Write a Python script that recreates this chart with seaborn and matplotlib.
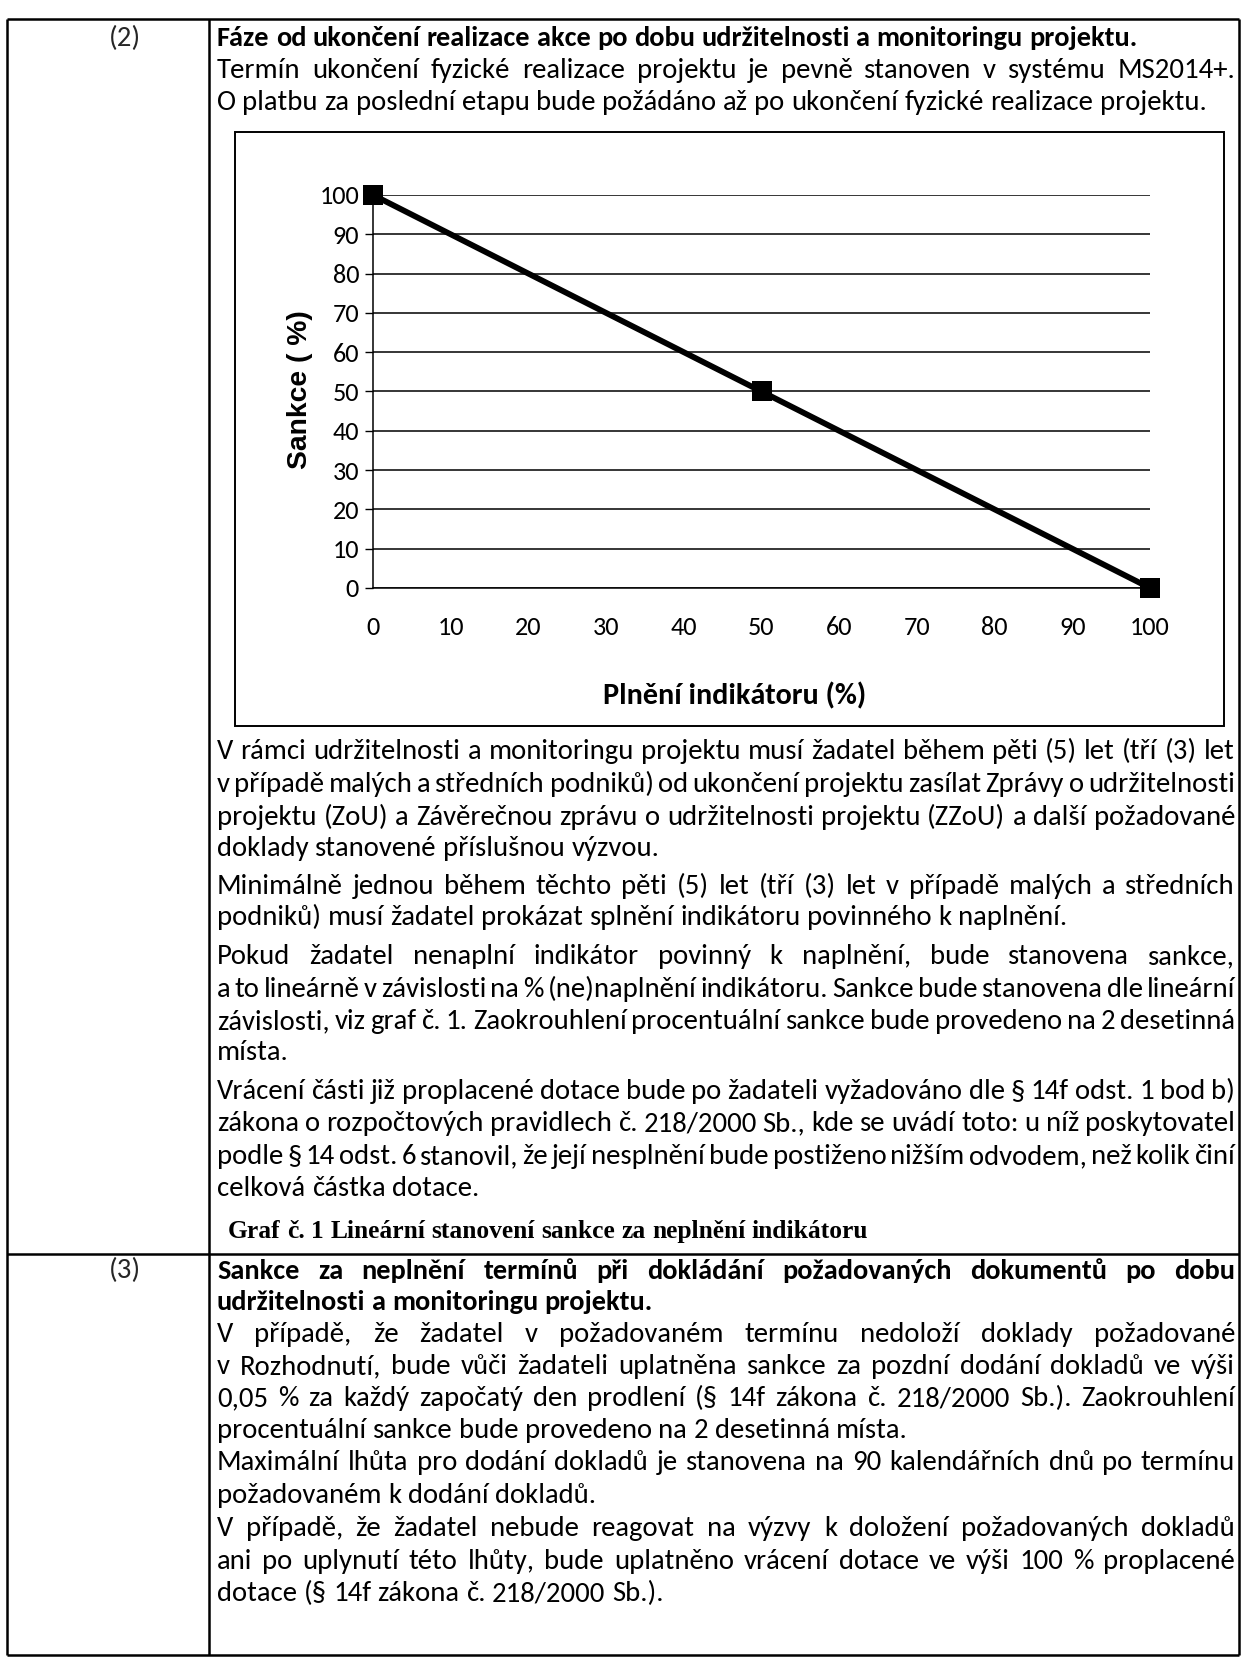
import matplotlib
matplotlib.use("Agg")
import matplotlib.pyplot as plt
from matplotlib import font_manager as fm
from matplotlib.patches import Rectangle
import seaborn as sns
import pandas as pd

# ---------------- chart data ----------------
plneni_indikatoru = [0, 50, 100]
sankce_pct = [100, 50, 0]
x_tick_values = [0, 10, 20, 30, 40, 50, 60, 70, 80, 90, 100]
y_tick_values = [0, 10, 20, 30, 40, 50, 60, 70, 80, 90, 100]
x_label = "Plnění indikátoru (%)"
y_label = "Sankce ( %)"
caption = "Graf č. 1 Lineární stanovení sankce za neplnění indikátoru"

# ---------------- page text ----------------
row_labels = ["(2)", "(3)"]
row2_heading = "Fáze od ukončení realizace akce po dobu udržitelnosti a monitoringu projektu."
row2_intro = [
    ("Termín ukončení fyzické realizace projektu je pevně stanoven v systému MS2014+.", True),
    ("O platbu za poslední etapu bude požádáno až po ukončení fyzické realizace projektu.", False),
]
row2_body = [
    ("V rámci udržitelnosti a monitoringu projektu musí žadatel během pěti (5) let (tří (3) let", True),
    ("v případě malých a středních podniků) od ukončení projektu zasílat Zprávy o udržitelnosti", True),
    ("projektu (ZoU) a Závěrečnou zprávu o udržitelnosti projektu (ZZoU) a další požadované", True),
    ("doklady stanovené příslušnou výzvou.", False),
    ("Minimálně jednou během těchto pěti (5) let (tří (3) let v případě malých a středních", True),
    ("podniků) musí žadatel prokázat splnění indikátoru povinného k naplnění.", False),
    ("Pokud žadatel nenaplní indikátor povinný k naplnění, bude stanovena sankce,", True),
    ("a to lineárně v závislosti na % (ne)naplnění indikátoru. Sankce bude stanovena dle lineární", True),
    ("závislosti, viz graf č. 1. Zaokrouhlení procentuální sankce bude provedeno na 2 desetinná", True),
    ("místa.", False),
    ("Vrácení části již proplacené dotace bude po žadateli vyžadováno dle § 14f odst. 1 bod b)", True),
    ("zákona o rozpočtových pravidlech č. 218/2000 Sb., kde se uvádí toto: u níž poskytovatel", True),
    ("podle § 14 odst. 6 stanovil, že její nesplnění bude postiženo nižším odvodem, než kolik činí", True),
    ("celková částka dotace.", False),
]
row3_heading = [
    ("Sankce za neplnění termínů při dokládání požadovaných dokumentů po dobu", True),
    ("udržitelnosti a monitoringu projektu.", False),
]
row3_body = [
    ("V případě, že žadatel v požadovaném termínu nedoloží doklady požadované", True),
    ("v Rozhodnutí, bude vůči žadateli uplatněna sankce za pozdní dodání dokladů ve výši", True),
    ("0,05 % za každý započatý den prodlení (§ 14f zákona č. 218/2000 Sb.). Zaokrouhlení", True),
    ("procentuální sankce bude provedeno na 2 desetinná místa.", False),
    ("Maximální lhůta pro dodání dokladů je stanovena na 90 kalendářních dnů po termínu", True),
    ("požadovaném k dodání dokladů.", False),
    ("V případě, že žadatel nebude reagovat na výzvy k doložení požadovaných dokladů", True),
    ("ani po uplynutí této lhůty, bude uplatněno vrácení dotace ve výši 100 % proplacené", True),
    ("dotace (§ 14f zákona č. 218/2000 Sb.).", False),
]

# ---------------- setup ----------------
W, H = 1241, 1662
sns.set_theme(style="white")
names = {f.name for f in fm.fontManager.ttflist}


def pick(cands, default):
    for c in cands:
        if c in names:
            return c
    return default


BODY = pick(["Carlito", "Calibri", "Lato", "Open Sans", "Noto Sans"], "DejaVu Sans")
ARIAL = pick(["Liberation Sans", "Arial"], "DejaVu Sans")
SERIF = pick(["Liberation Serif", "Times New Roman"], "DejaVu Serif")
plt.rcParams["font.family"] = [BODY, "DejaVu Sans"]
REGW = "medium"

fig = plt.figure(figsize=(W / 100, H / 100), dpi=100)
fig.patch.set_facecolor("white")
page = fig.add_axes([0, 0, 1, 1], zorder=0)
page.set_xlim(0, W)
page.set_ylim(H, 0)
page.axis("off")
renderer = fig.canvas.get_renderer()


def fam(f):
    return [f, "DejaVu Sans"]


def tw(s, size, weight=REGW, family=None):
    t = page.text(0, 0, s, fontsize=size, fontweight=weight, family=fam(family or BODY))
    w = t.get_window_extent(renderer=renderer).width
    t.remove()
    return w


def place_line(text, x0, yc, x_end, justify, size, weight=REGW, family=None):
    family = family or BODY
    words = text.split(" ")
    ws = [tw(w, size, weight, family) for w in words]
    if justify and len(words) > 1:
        gap = (x_end - x0 - sum(ws)) / (len(words) - 1)
    else:
        gap = tw("n n", size, weight, family) - tw("nn", size, weight, family)
    base = yc + 0.26 * size * 100 / 72
    x = x0
    for w, wd in zip(words, ws):
        page.text(x, base, w, fontsize=size, fontweight=weight, family=fam(family),
                  va="baseline", ha="left", color="black")
        x += wd + gap


# font sizes fitted to the reference widths
S_REG = 0.985 * 20 * 1007 / tw(row2_intro[1][0], 20)
S_BOLD = 20 * 924 / tw(row2_heading, 20, "bold")
S_CAP = 20 * 641 / tw(caption, 20, "bold", SERIF)

X0 = 217
XR = 1235

# ---------------- table borders ----------------
LW = 1.8
TOP, BOT, LEFT, COL, RIGHT, ROWDIV = 19, 1655, 7, 209, 1239, 1254
for (xa, xb, ya, yb) in [(LEFT, RIGHT, TOP, TOP), (LEFT, RIGHT, BOT, BOT),
                         (LEFT, LEFT, TOP, BOT), (COL, COL, TOP, BOT),
                         (RIGHT, RIGHT, TOP, BOT), (LEFT, RIGHT, ROWDIV, ROWDIV)]:
    page.plot([xa, xb], [ya, yb], color="black", lw=LW, solid_capstyle="butt")

page.text(125, 39 + 0.26 * S_REG * 100 / 72, row_labels[0], fontsize=S_REG, fontweight=REGW,
          ha="center", va="baseline")
page.text(125, 1271 + 0.26 * S_REG * 100 / 72, row_labels[1], fontsize=S_REG, fontweight=REGW,
          ha="center", va="baseline")

# ---------------- row (2) text ----------------
place_line(row2_heading, X0, 39, XR, False, S_BOLD, "bold")
for (txt, j), y in zip(row2_intro, [71, 103]):
    place_line(txt, X0, y, XR, j, S_REG)
body_y = [752, 785, 818, 849, 887, 918, 957, 990, 1022, 1053, 1092, 1124, 1157, 1189]
for (txt, j), y in zip(row2_body, body_y):
    place_line(txt, X0, y, XR, j, S_REG)
place_line(caption, 228, 1231, 869, False, S_CAP, "bold", SERIF)

# ---------------- row (3) text ----------------
place_line(row3_heading[0][0], X0, 1272, XR, True, S_BOLD, "bold")
place_line(row3_heading[1][0], X0, 1303, XR, False, S_BOLD, "bold")
r3_y = [1335, 1367, 1399, 1431, 1463, 1496, 1529, 1562, 1594]
for (txt, j), y in zip(row3_body, r3_y):
    place_line(txt, X0, y, XR, j, S_REG)

# ---------------- chart ----------------
page.add_patch(Rectangle((235, 132), 1224 - 235, 726 - 132, fill=False, ec="black", lw=1.4))

AX_L, AX_R, AX_T, AX_B = 373, 1150, 195, 588
ax = fig.add_axes([AX_L / W, 1 - AX_B / H, (AX_R - AX_L) / W, (AX_B - AX_T) / H], zorder=2)
ax.set_facecolor("none")

df = pd.DataFrame({"plneni": plneni_indikatoru, "sankce": sankce_pct})
sns.lineplot(data=df, x="plneni", y="sankce", ax=ax, color="black", linewidth=4.2,
             marker="s", markersize=15, markeredgewidth=0, markerfacecolor="black",
             clip_on=False, zorder=5)

ax.set_xlim(0, 100)
ax.set_ylim(0, 100)
ax.set_xticks(x_tick_values)
ax.set_yticks(y_tick_values)
ax.grid(False)
ax.yaxis.grid(True, color="black", linewidth=1.1)
ax.set_axisbelow(True)
for s in ["top", "right"]:
    ax.spines[s].set_visible(False)
for s in ["left", "bottom"]:
    ax.spines[s].set_visible(True)
    ax.spines[s].set_color("black")
    ax.spines[s].set_linewidth(1.1)

S_TICK = 20 * 40 / tw("100", 20)
ax.tick_params(axis="y", left=True, length=6, width=1, color="black", direction="out",
               pad=4, labelsize=S_TICK, labelcolor="black")
ax.tick_params(axis="x", bottom=False, length=0, pad=20, labelsize=S_TICK, labelcolor="black")
for lab in ax.get_xticklabels() + ax.get_yticklabels():
    lab.set_family(fam(BODY))
    lab.set_fontweight(REGW)

S_YL = 20 * 159 / tw(y_label, 20, "bold", ARIAL)
S_XL = 20 * 263 / tw(x_label, 20, "bold")
ax.set_ylabel(y_label, fontsize=S_YL, fontweight="bold", family=fam(ARIAL), color="black")
ax.set_xlabel(x_label, fontsize=S_XL, fontweight="bold", family=fam(BODY), color="black")
ax.yaxis.label.set_va("center")
ax.xaxis.label.set_va("center")
ax.yaxis.set_label_coords((300 - AX_L) / (AX_R - AX_L), (AX_B - 390) / (AX_B - AX_T))
ax.xaxis.set_label_coords((735 - AX_L) / (AX_R - AX_L), -(696 - AX_B) / (AX_B - AX_T))

fig.savefig("out.png", dpi=100, facecolor="white")
